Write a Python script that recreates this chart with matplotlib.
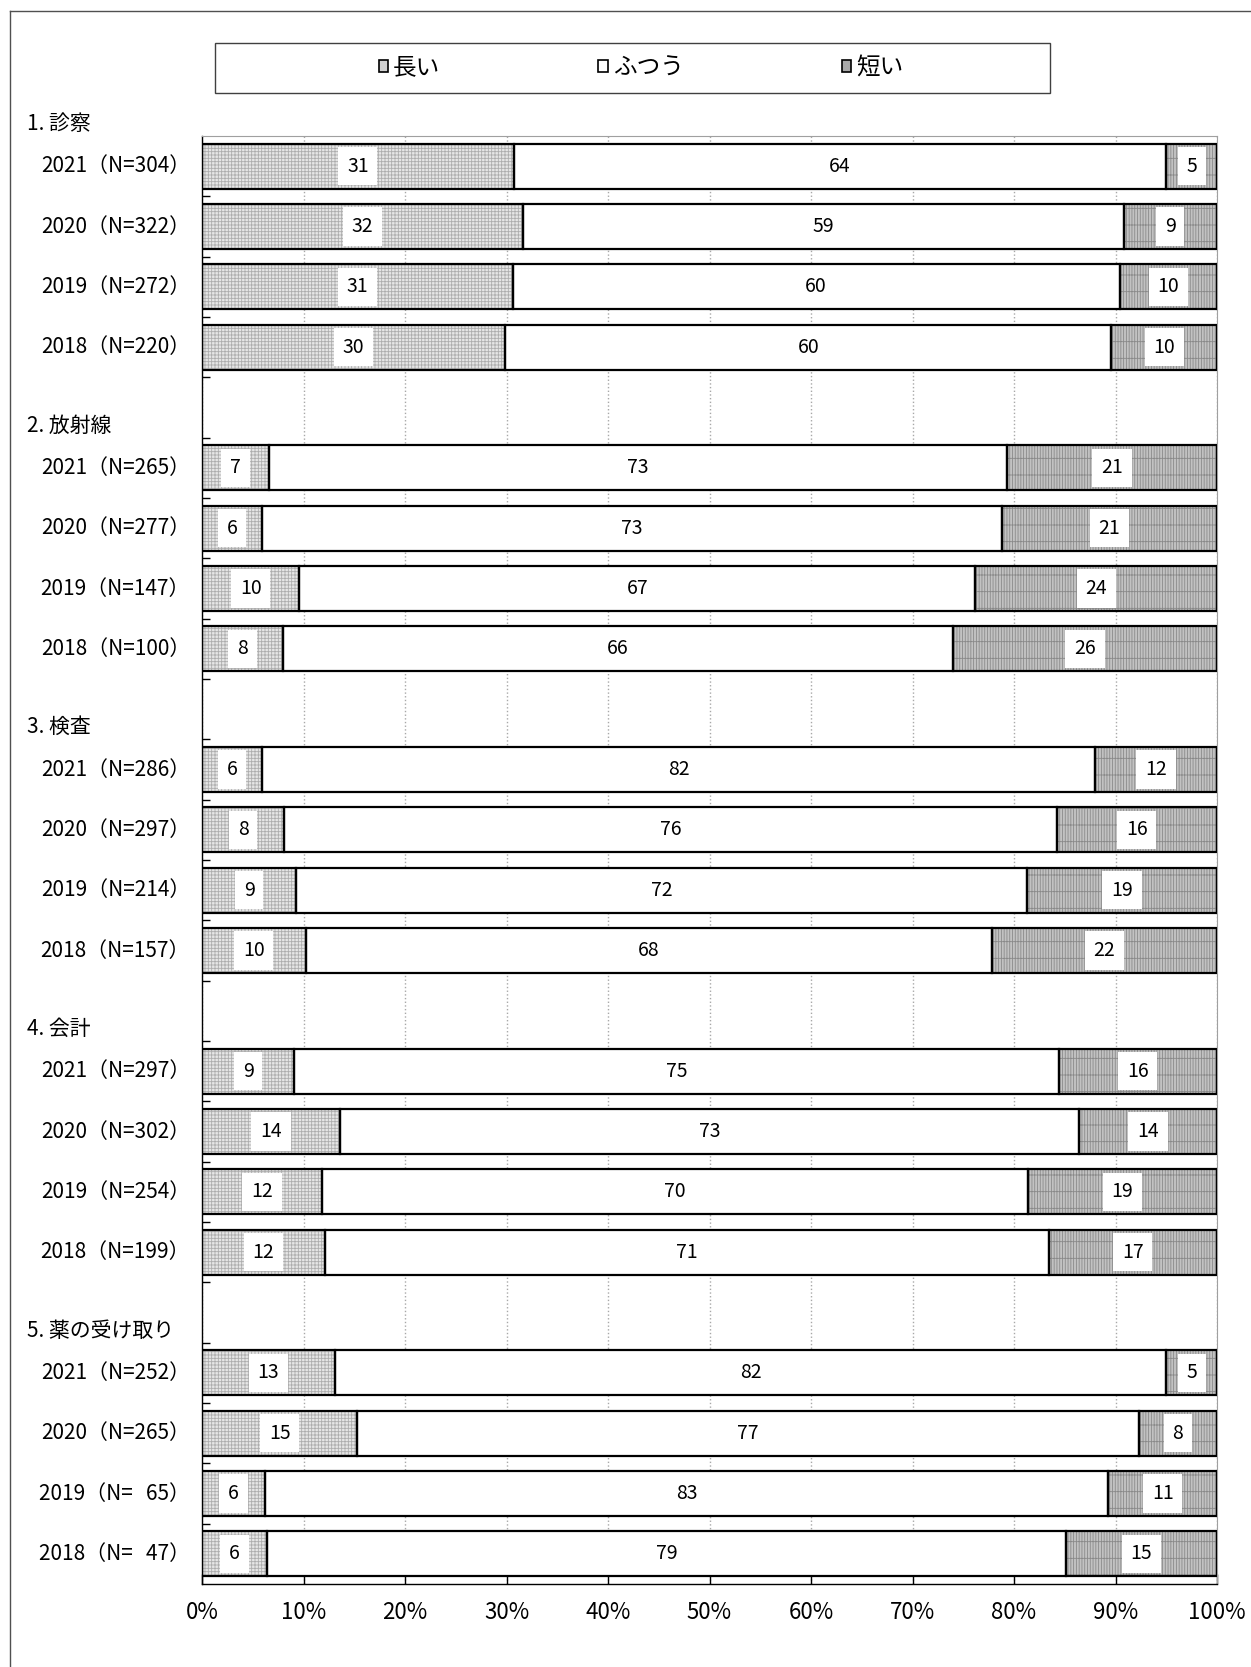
import matplotlib
matplotlib.use("Agg")
import matplotlib.pyplot as plt
import matplotlib.transforms as mtransforms
from matplotlib.patches import Patch, Rectangle
from matplotlib.lines import Line2D

plt.rcParams['font.family'] = ['Noto Sans CJK JP', 'DejaVu Sans']
plt.rcParams['hatch.linewidth'] = 0.6

# data (percent)
groups = ['1. 診察', '2. 放射線', '3. 検査', '4. 会計', '5. 薬の受け取り']
years = ['2021', '2020', '2019', '2018']
n_values = [[304, 322, 272, 220],
            [265, 277, 147, 100],
            [286, 297, 214, 157],
            [297, 302, 254, 199],
            [252, 265, 65, 47]]
long_pct = [30.7, 31.6, 30.6, 29.9,
            6.6, 5.9, 9.6, 8.0,
            5.9, 8.1, 9.3, 10.2,
            9.1, 13.6, 11.8, 12.1,
            13.1, 15.3, 6.2, 6.4]
normal_pct = [64.3, 59.2, 59.8, 59.7,
              72.7, 72.9, 66.6, 66.0,
              82.1, 76.1, 72.0, 67.6,
              75.3, 72.8, 69.6, 71.3,
              81.9, 77.0, 83.1, 78.7]
short_pct = [5.0, 9.2, 9.6, 10.4,
             20.7, 21.2, 23.8, 26.0,
             12.0, 15.8, 18.7, 22.2,
             15.6, 13.6, 18.6, 16.6,
             5.0, 7.7, 10.7, 14.9]
series_names = ['長い', 'ふつう', '短い']

fig = plt.figure(figsize=(12.51, 16.67), dpi=100)
W, H = 1251, 1667
ax = fig.add_axes([202 / W, 1 - 1584 / H, (1217 - 202) / W, (1584 - 136) / H])

# row positions: 4 bars per group, one blank row between groups
rows = []
for g in range(len(groups)):
    for j in range(len(years)):
        rows.append(g * 5 + j)

styles = [dict(face='#e6e6e6', hatch='+++++', hcol='#adadad'),
          dict(face='white', hatch=None, hcol='white'),
          dict(face='#c2c2c2', hatch='|||||+', hcol='#8a8a8a')]

left = [0.0] * len(rows)
for vals, st in zip([long_pct, normal_pct, short_pct], styles):
    ax.barh(rows, vals, left=left, height=0.75, color=st['face'],
            edgecolor=st['hcol'], hatch=st['hatch'], linewidth=0, zorder=2)
    ax.barh(rows, vals, left=left, height=0.75, fill=False,
            edgecolor='black', linewidth=1.6, zorder=3)
    for y, l, v in zip(rows, left, vals):
        ax.text(l + v / 2, y, f"{v:.0f}", ha='center', va='center',
                fontsize=14, zorder=4,
                bbox=dict(boxstyle='square,pad=0.45', fc='white', ec='none'))
    left = [a + b for a, b in zip(left, vals)]

ax.set_xlim(0, 100)
ax.set_ylim(23.5, -0.5)
ax.set_xticks(range(0, 101, 10))
ax.set_xticklabels([f"{t}%" for t in range(0, 101, 10)], fontsize=16)
ax.set_yticks([k + 0.5 for k in range(23)])
ax.set_yticklabels([])
ax.tick_params(axis='x', direction='in', length=7, width=1, pad=12)
ax.tick_params(axis='y', direction='in', length=6, width=1)
ax.grid(axis='x', color='#a8a8a8', linestyle=':', linewidth=1.0, zorder=0)
ax.set_axisbelow(True)
for s in ['top', 'right']:
    ax.spines[s].set_color('#a0a0a0')
    ax.spines[s].set_linewidth(0.8)
for s in ['left', 'bottom']:
    ax.spines[s].set_color('black')
    ax.spines[s].set_linewidth(1.0)

# category labels
trans = mtransforms.blended_transform_factory(ax.transAxes, ax.transData)
ftrans = mtransforms.blended_transform_factory(fig.transFigure, ax.transData)
for g, name in enumerate(groups):
    ax.text(27 / W, g * 5 - 0.7, name, transform=ftrans,
            ha='left', va='center', fontsize=15, clip_on=False)
    for j, yr in enumerate(years):
        n = str(n_values[g][j]).rjust(3, '\u2007')
        ax.text(-12 / 1015, g * 5 + j, f"{yr}（N={n}）", transform=trans,
                ha='right', va='center', fontsize=15, clip_on=False)

# legend with separate frame
handles = [Patch(facecolor=c, edgecolor='black', linewidth=1.2)
           for c in ['#d0d0d0', 'white', '#a8a8a8']]
fig.legend(handles, series_names, loc='center', ncol=3, frameon=False,
           bbox_to_anchor=(641 / W, 1 - 68 / H), fontsize=17,
           handlelength=0.4, handleheight=0.4, handletextpad=0.2,
           columnspacing=6.7)
fig.patches.append(Rectangle((215 / W, 1 - 93 / H), (1050 - 215) / W, 50 / H,
                             transform=fig.transFigure, fill=False,
                             edgecolor='#404040', linewidth=1.0))

# outer chart frame (left and top edges)
fig.lines.append(Line2D([10 / W, 10 / W], [0, 1 - 11 / H], transform=fig.transFigure,
                        color='#505050', linewidth=1.0))
fig.lines.append(Line2D([10 / W, 1], [1 - 11 / H, 1 - 11 / H], transform=fig.transFigure,
                        color='#505050', linewidth=1.0))

fig.savefig('out.png', dpi=100)
